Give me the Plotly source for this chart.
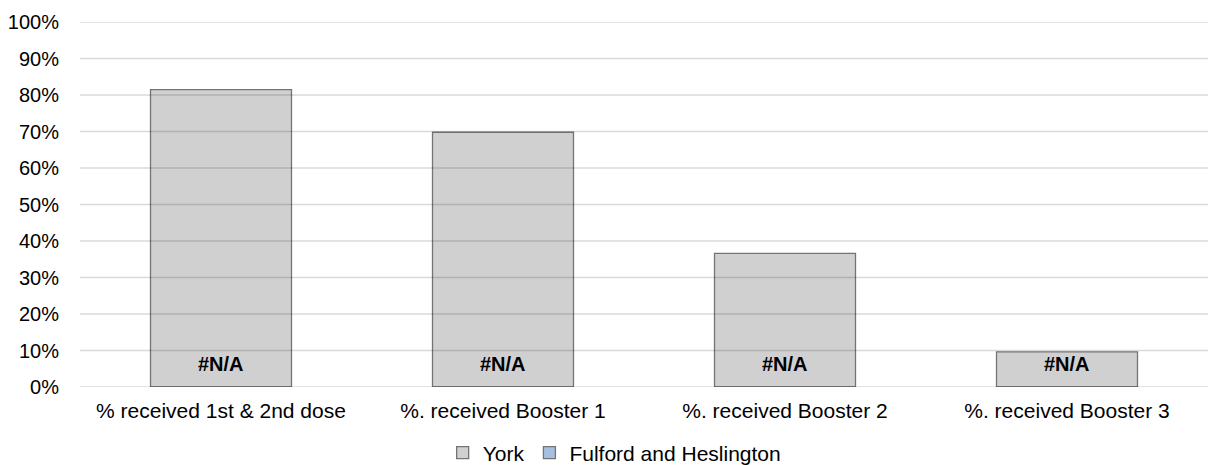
import plotly.graph_objects as go

categories = ["% received 1st & 2nd dose", "%. received Booster 1",
              "%. received Booster 2", "%. received Booster 3"]
york = [0.815, 0.698, 0.366, 0.096]
fulford = [0, 0, 0, 0]
fulford_labels = ["#N/A", "#N/A", "#N/A", "#N/A"]
y_ticks = [0, 0.1, 0.2, 0.3, 0.4, 0.5, 0.6, 0.7, 0.8, 0.9, 1.0]

FONT = "Liberation Sans, Arial, sans-serif"

fig = go.Figure()
fig.add_trace(go.Bar(
    x=categories, y=york, name="York", width=0.5,
    marker=dict(color="#d0d0d0", line=dict(color="#747474", width=1.3)),
))
fig.add_trace(go.Bar(
    x=categories, y=fulford, name="Fulford and Heslington", width=0.5,
    marker=dict(color="#a7c0e1", line=dict(color="#747474", width=1.3)),
))

for c, lab in zip(categories, fulford_labels):
    fig.add_annotation(x=c, y=0, text="<b>%s</b>" % lab, showarrow=False,
                       yanchor="middle", yshift=23,
                       font=dict(family=FONT, size=20, color="#000000"))

for t in y_ticks:
    fig.add_shape(type="line", xref="paper", yref="y", x0=0, x1=1, y0=t, y1=t,
                  line=dict(color="rgba(0,0,0,0.15)", width=1.3), layer="above")

fig.update_layout(
    width=1208, height=465,
    margin=dict(l=80, r=0, t=22, b=78, autoexpand=False),
    barmode="overlay",
    plot_bgcolor="white", paper_bgcolor="white",
    font=dict(family=FONT, size=20, color="#000000"),
    showlegend=True,
    legend=dict(orientation="h", x=0.474, xanchor="center",
                yref="container", y=0.026, yanchor="middle",
                font=dict(size=21), itemwidth=30, traceorder="normal"),
)
fig.update_xaxes(showgrid=False, showline=False, ticks="outside", ticklen=5,
                 tickcolor="rgba(0,0,0,0)", tickfont=dict(size=21), automargin=False)
fig.update_yaxes(range=[0, 1], tickvals=y_ticks, tickformat=".0%", showgrid=False,
                 zeroline=False, showline=False, ticks="outside", ticklen=16,
                 tickcolor="rgba(0,0,0,0)", tickfont=dict(size=20), automargin=False)

fig.write_html("out.html", config={"displayModeBar": False},
               post_script="document.body.style.margin='0';document.body.style.overflow='hidden';")
